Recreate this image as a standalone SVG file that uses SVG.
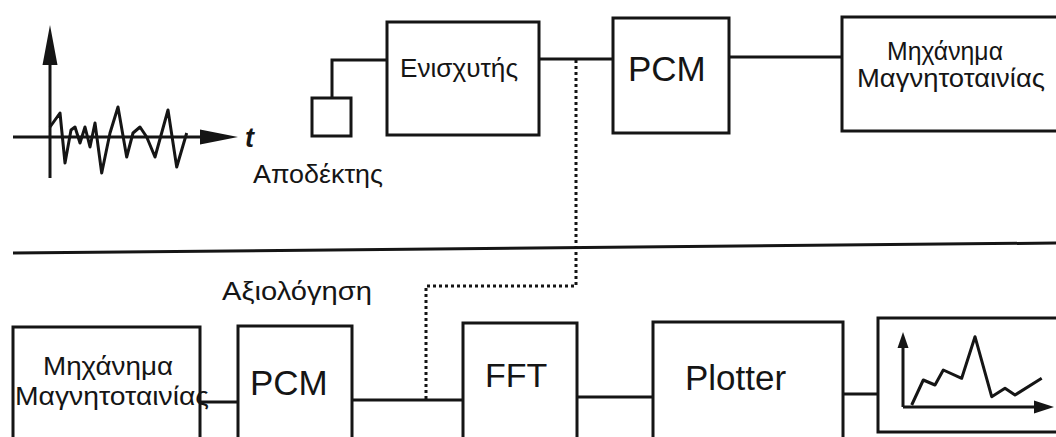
<svg xmlns="http://www.w3.org/2000/svg" width="1056" height="437" viewBox="0 0 1056 437">
<defs>
<style>
.box{fill:#fff;stroke:#151515;stroke-width:3}
.ln{fill:none;stroke:#151515;stroke-width:3}
.dot{fill:none;stroke:#151515;stroke-width:3;stroke-dasharray:3 3}
.t{font-family:"Liberation Sans",Arial,sans-serif;fill:#151515}
.gr{font-size:26px}
.big{font-size:35px}
.ah{fill:#151515}
</style>
</defs>
<rect width="1056" height="437" fill="#fff"/>
<g id="signal">
<line class="ln" x1="50" y1="178" x2="50" y2="60"/>
<polygon class="ah" points="50,25 42.5,65 57.5,65"/>
<line class="ln" x1="13" y1="137" x2="205" y2="137"/>
<polygon class="ah" points="238,137 200,129.5 200,144.5"/>
<polyline class="ln" stroke-width="2.5" stroke-linejoin="round" points="50,127 60,113 65,163 71,130 75,127 80,143 85,127 90,147 95,123 101.7,173 110,133 118,107 126.7,157 133,133 140,127 146.7,137 155,157 168,110 176.7,167 186.7,133"/>
<text class="t" x="245" y="147" font-size="27" font-weight="bold" font-style="italic">t</text>
</g>
<g id="receiver">
<rect class="box" x="312" y="98" width="39" height="38"/>
<text class="t gr" x="253" y="183" textLength="130" lengthAdjust="spacingAndGlyphs">Αποδέκτης</text>
</g>
<g id="amplifier">
<rect class="box" x="387" y="22" width="152" height="113"/>
<text class="t gr" x="400" y="77" textLength="118" lengthAdjust="spacingAndGlyphs">Ενισχυτής</text>
</g>
<g id="pcm-top">
<rect class="box" x="613" y="18" width="116" height="115"/>
<text class="t big" x="628" y="81">PCM</text>
</g>
<g id="tape-top">
<rect class="box" x="842" y="17" width="230" height="114"/>
<text class="t gr" x="887" y="60" textLength="116" lengthAdjust="spacingAndGlyphs">Μηχάνημα</text>
<text class="t gr" x="857" y="87" textLength="188" lengthAdjust="spacingAndGlyphs">Μαγνητοταινίας</text>
</g>
<g id="separator">
<line class="ln" x1="13" y1="253" x2="1056" y2="243"/>
</g>
<g id="evaluation-label">
<text class="t" x="222" y="300" font-size="25" textLength="150" lengthAdjust="spacingAndGlyphs">Αξιολόγηση</text>
</g>
<g id="tape-bottom">
<rect class="box" x="13" y="327" width="187" height="130"/>
<text class="t gr" x="43" y="375" textLength="130" lengthAdjust="spacingAndGlyphs">Μηχάνημα</text>
<text class="t gr" x="15" y="405" textLength="194" lengthAdjust="spacingAndGlyphs">Μαγνητοταινίας</text>
</g>
<g id="pcm-bottom">
<rect class="box" x="238" y="326" width="114" height="130"/>
<text class="t big" x="250" y="395">PCM</text>
</g>
<g id="fft">
<rect class="box" x="463" y="323" width="114" height="130"/>
<text class="t" x="485" y="387" font-size="34">FFT</text>
</g>
<g id="plotter">
<rect class="box" x="653" y="322" width="190" height="130"/>
<text class="t big" x="685" y="390">Plotter</text>
</g>
<g id="graph">
<rect class="box" x="878" y="318" width="200" height="114"/>
<line class="ln" x1="903" y1="407" x2="903" y2="340"/>
<polygon class="ah" points="903,332 897.5,348 908.5,348"/>
<line class="ln" x1="903" y1="407" x2="1040" y2="407"/>
<polygon class="ah" points="1054,407 1034,400.5 1034,413.5"/>
<polyline class="ln" stroke-linejoin="round" points="911.7,405 923.3,380 935,385 943.3,370 961.7,378.3 975,336.7 991.7,396.7 1005,388.3 1015,395 1041.7,378.3"/>
</g>
<g id="connectors">
<polyline class="ln" points="332,98 332,60 387,60"/>
<line class="ln" x1="539" y1="59" x2="613" y2="59"/>
<line class="ln" x1="729" y1="57" x2="842" y2="57"/>
<line class="ln" x1="200" y1="402" x2="238" y2="402"/>
<line class="ln" x1="352" y1="400" x2="463" y2="400"/>
<line class="ln" x1="577" y1="397" x2="653" y2="397"/>
<line class="ln" x1="843" y1="394" x2="878" y2="394"/>
<polyline class="dot" points="576,60 576,286 426,286 426,399"/>
</g>
</svg>
